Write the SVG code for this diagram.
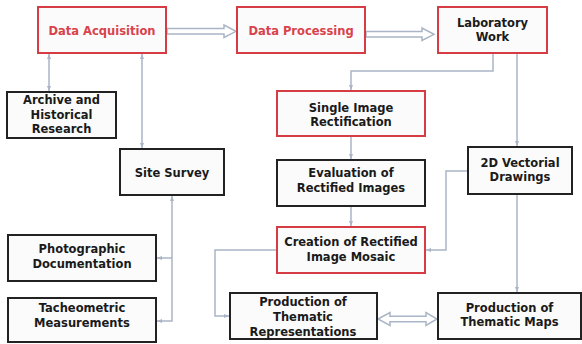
<svg xmlns="http://www.w3.org/2000/svg" width="582" height="344" viewBox="0 0 582 344">
<style>
.box{fill:#fbfbfb;stroke:#222;stroke-width:2}
.red{fill:#fbfbfb;stroke:#d63c44;stroke-width:2}
text{font-family:"DejaVu Sans",Verdana,sans-serif;font-weight:bold;font-size:11.5px;fill:#1a1a1a;text-anchor:middle}
text.r{fill:#d8434b}
.c{fill:none;stroke:#aab5c7;stroke-width:1.5}
.h{fill:#fff;stroke:#aab5c7;stroke-width:1.5;stroke-linejoin:miter}
</style>
<defs>
<marker id="a" viewBox="0 0 10 10" refX="10" refY="5" markerWidth="5" markerHeight="5" orient="auto-start-reverse" markerUnits="userSpaceOnUse">
<path d="M0,1 L10,5 L0,9 z" fill="#aab5c7"/>
</marker>
</defs>
<rect width="582" height="344" fill="#fff"/>
<g id="connectors">
<path class="c" d="M49,54 V91" marker-start="url(#a)" marker-end="url(#a)"/>
<path class="c" d="M142,54 V148" marker-start="url(#a)" marker-end="url(#a)"/>
<path class="c" d="M172,196 V321 H157" marker-start="url(#a)" marker-end="url(#a)"/>
<path class="c" d="M172,258 H157" marker-end="url(#a)"/>
<path class="c" d="M493,53 V71 H351 V90" marker-end="url(#a)"/>
<path class="c" d="M351,137 V159" marker-end="url(#a)"/>
<path class="c" d="M351,207 V226" marker-end="url(#a)"/>
<path class="c" d="M517,53 V146" marker-end="url(#a)"/>
<path class="c" d="M468,171 H446 V250 H426" marker-end="url(#a)"/>
<path class="c" d="M517,195 V292" marker-end="url(#a)"/>
<path class="c" d="M277,250 H215 V316 H229" marker-end="url(#a)"/>
<polygon class="h" points="167,28.5 224,28.5 224,25 236,31.3 224,37.5 224,34 167,34"/>
<polygon class="h" points="366,31.5 422,31.5 422,28 434,34.3 422,40.5 422,37 366,37"/>
<polygon class="h" points="378,319 390,312.5 390,316.3 426,316.3 426,312.5 437,319 426,325.5 426,321.7 390,321.7 390,325.5"/>
</g>
<g id="data-acquisition"><rect class="red" x="38" y="7" width="128" height="46"/><text class="r" x="102" y="35">Data Acquisition</text></g>
<g id="data-processing"><rect class="red" x="237" y="7" width="128" height="46"/><text class="r" x="301" y="35">Data Processing</text></g>
<g id="laboratory-work"><rect class="red" x="438" y="7" width="109" height="46"/><text x="492.5" y="27">Laboratory</text><text x="492.5" y="41">Work</text></g>
<g id="archive"><rect class="box" x="7" y="92" width="109" height="46"/><text x="61.5" y="104">Archive and</text><text x="61.5" y="119">Historical</text><text x="61.5" y="133">Research</text></g>
<g id="site-survey"><rect class="box" x="120" y="149" width="104" height="46"/><text x="172" y="177">Site Survey</text></g>
<g id="photographic"><rect class="box" x="8" y="235" width="148" height="46"/><text x="82" y="253">Photographic</text><text x="82" y="268">Documentation</text></g>
<g id="tacheometric"><rect class="box" x="8" y="298" width="148" height="44"/><text x="82" y="312">Tacheometric</text><text x="82" y="327">Measurements</text></g>
<g id="single-image"><rect class="red" x="277" y="91" width="148" height="45"/><text x="351" y="112">Single Image</text><text x="351" y="126">Rectification</text></g>
<g id="evaluation"><rect class="box" x="277" y="160" width="148" height="46"/><text x="351" y="177">Evaluation of</text><text x="351" y="192">Rectified Images</text></g>
<g id="creation"><rect class="red" x="277" y="227" width="148" height="46"/><text x="351" y="246">Creation of Rectified</text><text x="351" y="261">Image Mosaic</text></g>
<g id="vectorial"><rect class="box" x="468" y="147" width="104" height="47"/><text x="520" y="167">2D Vectorial</text><text x="520" y="181">Drawings</text></g>
<g id="thematic-maps"><rect class="box" x="438" y="293" width="143" height="46"/><text x="509.5" y="312">Production of</text><text x="509.5" y="326">Thematic Maps</text></g>
<g id="thematic-representations"><rect class="box" x="230" y="293" width="147" height="46"/><text x="303" y="306">Production of</text><text x="303" y="321">Thematic</text><text x="303" y="336">Representations</text></g>
</svg>
